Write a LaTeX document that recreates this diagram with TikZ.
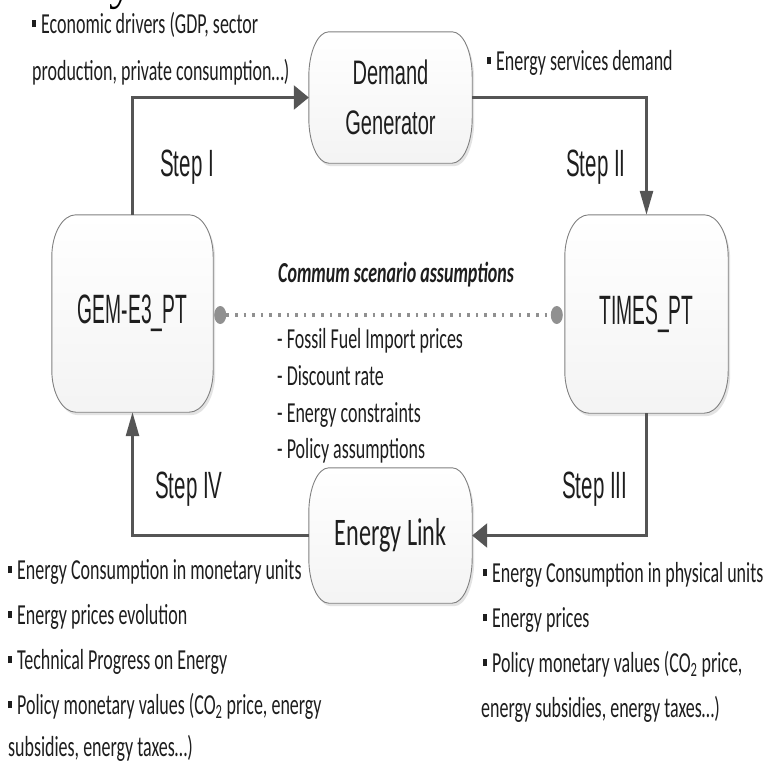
\documentclass[tikz,border=0pt]{standalone}
\usepackage{fontspec}
\setmainfont{Carlito}
\newfontfamily\calf[FakeStretch=0.62]{Carlito}
\newfontfamily\arA[FakeStretch=0.47]{Liberation Sans}
\newfontfamily\arB[FakeStretch=0.54]{Liberation Sans}
\newfontfamily\arC[FakeStretch=0.59]{Liberation Sans}
\newfontfamily\serf{Liberation Serif}
\usetikzlibrary{arrows.meta,shadows,calc,shapes.geometric}
\pgfdeclarelayer{bg}
\pgfsetlayers{bg,main}
\definecolor{linec}{HTML}{555555}
\definecolor{boxline}{HTML}{808080}
\definecolor{dotc}{HTML}{909090}
\definecolor{txt}{HTML}{1E1E1E}
\newcommand\bul{\rule[0.2em]{4pt}{7pt}\hspace{5pt}}
\newcommand\ellbox[3]{%
 \path[boxfill] ([xshift=#2]#1.north west) -- ([xshift=-#2]#1.north east)
   arc[start angle=90,end angle=0,x radius=#2,y radius=#3]
   -- ([yshift=#3]#1.south east)
   arc[start angle=0,end angle=-90,x radius=#2,y radius=#3]
   -- ([xshift=#2]#1.south west)
   arc[start angle=-90,end angle=-180,x radius=#2,y radius=#3]
   -- ([yshift=-#3]#1.north west)
   arc[start angle=180,end angle=90,x radius=#2,y radius=#3] -- cycle;}
\begin{document}
\begin{tikzpicture}[x=1pt,y=1pt,
  boxnode/.style={rectangle,draw=none,inner sep=0,text=txt},
  boxfill/.style={draw=boxline,line width=0.9pt,top color=white,bottom color=gray!9,
     drop shadow={shadow xshift=2pt,shadow yshift=-3pt,fill=black!22}},
  conn/.style={draw=linec,line width=2.6pt},
  harrow/.style={-{Triangle[length=15pt,width=24pt]}},
  varrow/.style={-{Triangle[length=24pt,width=13pt]}},
  lbl/.style={anchor=base west,inner sep=0,text=txt},
  bltxt/.style={lbl,font=\calf\fontsize{29}{29}\selectfont},
  steptxt/.style={lbl,font=\arB\fontsize{38}{38}\selectfont},
  dotend/.style={ellipse,fill=dotc,draw=none,minimum width=12pt,minimum height=18pt,inner sep=0},
  dotline/.style={draw=dotc,line width=3.4pt,dash pattern=on 2.6pt off 6pt}
]
\useasboundingbox (0,0) rectangle (769,-764);
\clip (0,0) rectangle (769,-764);

% boxes
\node[boxnode,minimum width=163pt,minimum height=131pt,align=center,
  font=\arC\fontsize{34}{50}\selectfont] (dg) at (390.5,-97.5) {Demand\\Generator};
\node[boxnode,minimum width=161pt,minimum height=197pt,
  font=\arA\fontsize{41}{41}\selectfont] (gem) at (132.5,-313.5) {GEM-E3\_PT};
\node[boxnode,minimum width=163pt,minimum height=198pt,
  font=\arA\fontsize{41}{41}\selectfont] (times) at (646.5,-314) {TIMES\_PT};
\node[boxnode,minimum width=163pt,minimum height=135pt,
  font=\calf\fontsize{39}{39}\selectfont] (el) at (390.5,-535.5) {Energy Link};
\begin{pgfonlayer}{bg}
\ellbox{dg}{20pt}{45pt}
\ellbox{gem}{24pt}{42pt}
\ellbox{times}{24pt}{42pt}
\ellbox{el}{20pt}{45pt}
\end{pgfonlayer}

% connectors
\draw[conn,harrow] (gem.north) |- (dg.west);
\draw[conn,varrow] (dg.east) -| (times.north);
\draw[conn,harrow] (times.south) |- (el.east);
\draw[conn,varrow] (el.west) -| (gem.south);

% dotted link
\node[dotend] (dl) at ($(gem.east)+(7,-1.5)$) {};
\node[dotend] (dr) at ($(times.west)+(-8,-1)$) {};
\draw[dotline] (dl) -- (dr);

% title remnant
\node[lbl,font=\serf\fontsize{47}{47}\selectfont,text=black] (ttl) at (18,1) {Analysis};

% top texts
\node[bltxt] (ec1) at (32,-33) {\bul Economic drivers (GDP, sector};
\node[bltxt] (ec2) at (32,-80) {production, private consumption…)};
\node[bltxt] (esd) at (487,-70) {\bul Energy services demand};

% steps
\node[steptxt] (s1) at (160,-176) {Step I};
\node[steptxt] (s2) at (566,-176) {Step II};
\node[steptxt] (s4) at (155,-498) {Step IV};
\node[steptxt] (s3) at (562,-498) {Step III};

% common assumptions
\node[bltxt,font=\calf\bfseries\itshape\fontsize{29}{29}\selectfont] (cm) at (278,-282) {Commum scenario assumptions};
\node[bltxt] (d1) at (277,-348) {- Fossil Fuel Import prices};
\node[bltxt] (d2) at (277,-385) {- Discount rate};
\node[bltxt] (d3) at (277,-422) {- Energy constraints};
\node[bltxt] (d4) at (277,-458) {- Policy assumptions};

% bottom left
\node[bltxt] (l1) at (8,-579) {\bul Energy Consumption in monetary units};
\node[bltxt] (l2) at (8,-624) {\bul Energy prices evolution};
\node[bltxt] (l3) at (8,-669) {\bul Technical Progress on Energy};
\node[bltxt] (l4) at (8,-714) {\bul Policy monetary values (CO\textsubscript{2} price, energy};
\node[bltxt] (l5) at (8,-756) {subsidies, energy taxes…)};

% bottom right
\node[bltxt] (r1) at (483,-582) {\bul Energy Consumption in physical units};
\node[bltxt] (r2) at (483,-627) {\bul Energy prices};
\node[bltxt] (r3) at (483,-672) {\bul Policy monetary values (CO\textsubscript{2} price,};
\node[bltxt] (r4) at (481,-717) {energy subsidies, energy taxes…)};
\end{tikzpicture}
\end{document}
